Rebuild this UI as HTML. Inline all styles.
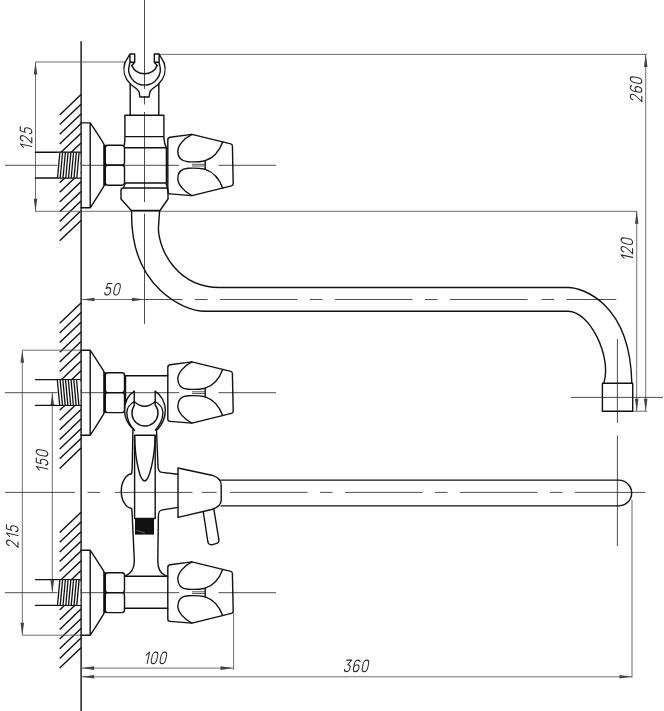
<!DOCTYPE html>
<html><head><meta charset="utf-8"><title>drawing</title>
<style>html,body{margin:0;padding:0;background:#fff}svg{display:block}</style></head>
<body>
<svg width="664" height="711" viewBox="0 0 664 711">
<style>
.k{fill:none;stroke:#111;stroke-width:1.4;stroke-linejoin:round;stroke-linecap:round}
.t{fill:none;stroke:#3a3a3a;stroke-width:0.85}
.t2{fill:none;stroke:#111;stroke-width:1.3}
.h{fill:none;stroke:#111;stroke-width:1.4}
.d{fill:none;stroke:#555;stroke-width:0.85}
.c{fill:none;stroke:#2e2e2e;stroke-width:0.85}
.a{fill:#444;stroke:none}
.g path{fill:none;stroke:#2a2a2a;stroke-width:0.95;stroke-linecap:round;stroke-linejoin:round}
</style>
<rect width="664" height="711" fill="#fff"/>
<path class="h" d="M81,94.6 L59.7,114.9 M81,104.3 L59.7,124.6 M81,114.0 L59.7,134.3 M81,123.6 L59.7,143.9 M81,133.3 L59.7,153.6 M81,143.0 L59.7,163.3 M81,152.7 L59.7,173.0 M81,162.4 L59.7,182.7 M81,172.0 L59.7,192.3 M81,181.7 L59.7,202.0 M81,191.4 L59.7,211.7 M81,201.1 L59.7,221.4 M81,210.8 L59.7,231.1 M81,220.4 L59.7,240.7 "/>
<path class="h" d="M81,302.9 L59.7,323.2 M81,312.6 L59.7,332.9 M81,322.3 L59.7,342.6 M81,331.9 L59.7,352.2 M81,341.6 L59.7,361.9 M81,351.3 L59.7,371.6 M81,361.0 L59.7,381.3 M81,370.7 L59.7,391.0 M81,380.3 L59.7,400.6 M81,390.0 L59.7,410.3 M81,399.7 L59.7,420.0 M81,409.4 L59.7,429.7 M81,419.1 L59.7,439.4 M81,428.7 L59.7,449.0 M81,438.4 L59.7,458.7 M81,448.1 L59.7,468.4 "/>
<path class="h" d="M81,512.3 L59.7,532.6 M81,522.0 L59.7,542.3 M81,531.7 L59.7,552.0 M81,541.3 L59.7,561.6 M81,551.0 L59.7,571.3 M81,560.7 L59.7,581.0 M81,570.4 L59.7,590.7 M81,580.1 L59.7,600.4 M81,589.7 L59.7,610.0 M81,599.4 L59.7,619.7 M81,609.1 L59.7,629.4 M81,618.8 L59.7,639.1 M81,628.5 L59.7,648.8 M81,638.1 L59.7,658.4 M81,647.8 L59.7,668.1 "/>
<path class="k" d="M81.1,41.8 L81.1,711"/>
<path class="d" d="M35,62 L125,62 M159.5,54.4 L647,54.4 M35,211.3 L637.5,211.3 M35.5,62 L35.5,211.3 M645.7,54.4 L645.7,411.2 M632.8,411.2 L647.3,411.2 M636.7,211.3 L636.7,411.2 M82,299.5 L144.5,299.5 M22.3,350.2 L82,350.2 M22.3,635.2 L82,635.2 M22.3,350.2 L22.3,635.2 M52.3,392.7 L52.3,592.7 M82,668.1 L233,668.1 M82,676.8 L632,676.8 M233.6,612 L233.6,670 M632,500 L632,678"/>
<path class="c" d="M144.5,0 L144.5,89 M144.5,96 L144.5,104.5 M144.5,112 L144.5,202 M144.5,213.6 L144.5,324 M5,165.3 L179.3,165.3 M218.4,165.3 L276,165.3 M144.5,299.5 L182.5,299.5 M195,299.5 L207.5,299.5 M220,299.5 L297.5,299.5 M310,299.5 L322.5,299.5 M335,299.5 L412.5,299.5 M425,299.5 L437.5,299.5 M450,299.5 L527.5,299.5 M541.5,299.5 L554,299.5 M566.5,299.5 L616.3,299.5 M617.4,339 L617.4,423 M617.4,435.5 L617.4,546 M571,397.4 L663,397.4 M5,392.7 L179.3,392.7 M218.4,392.7 L276,392.7 M5,592.7 L179.3,592.7 M218.4,592.7 L276,592.7 M5,492.4 L75,492.4 M87.5,492.4 L100,492.4 M115,492.4 L192.5,492.4 M201.8,492.4 L216.6,492.4 M230,492.4 L307.5,492.4 M320,492.4 L332.5,492.4 M345,492.4 L422.5,492.4 M435,492.4 L447.5,492.4 M460,492.4 L537.5,492.4 M550,492.4 L562.5,492.4 M575,492.4 L645.5,492.4"/>
<polygon class="a" points="35.5,62.0 33.7,74.5 37.3,74.5"/>
<polygon class="a" points="35.5,211.3 33.7,198.8 37.3,198.8"/>
<polygon class="a" points="645.7,54.4 643.9,66.9 647.5,66.9"/>
<polygon class="a" points="645.7,411.2 643.9,398.7 647.5,398.7"/>
<polygon class="a" points="636.7,211.3 634.9,223.8 638.5,223.8"/>
<polygon class="a" points="636.7,411.2 634.9,398.7 638.5,398.7"/>
<polygon class="a" points="82.0,299.5 94.5,297.7 94.5,301.3"/>
<polygon class="a" points="144.5,299.5 132.0,297.7 132.0,301.3"/>
<polygon class="a" points="22.3,350.2 20.5,362.7 24.1,362.7"/>
<polygon class="a" points="22.3,635.2 20.5,622.7 24.1,622.7"/>
<polygon class="a" points="52.3,392.7 50.5,405.2 54.1,405.2"/>
<polygon class="a" points="52.3,592.7 50.5,580.2 54.1,580.2"/>
<polygon class="a" points="81.6,668.1 94.1,666.3 94.1,669.9"/>
<polygon class="a" points="233.0,668.1 220.5,666.3 220.5,669.9"/>
<polygon class="a" points="81.6,676.8 94.1,675.0 94.1,678.6"/>
<polygon class="a" points="632.0,676.8 619.5,675.0 619.5,678.6"/>
<g class="g" transform="translate(31.8,149.6) rotate(-90)"><path transform="translate(0.00,0) scale(1.08,1.15) skewX(-13) translate(0,-10)" d="M0.4,2.7 L2.9,0 L2.9,10"/><path transform="translate(6.60,0) scale(1.08,1.15) skewX(-13) translate(0,-10)" d="M0.1,2.4 C0.3,0.9 1.2,0 2.5,0 C4,0 5,1 5,2.6 C5,4 4.2,5 3.2,6.2 L0,10 L5,10"/><path transform="translate(15.40,0) scale(1.08,1.15) skewX(-13) translate(0,-10)" d="M4.8,0 L0.9,0 L0.4,4.4 C1.1,3.8 1.9,3.6 2.6,3.6 C4.1,3.6 5,4.9 5,6.8 C5,8.7 4,10 2.5,10 C1.1,10 0.2,9.2 0,7.9"/></g>
<g class="g" transform="translate(641.8,101.7) rotate(-90)"><path transform="translate(0.00,0) scale(1.08,1.15) skewX(-13) translate(0,-10)" d="M0.1,2.4 C0.3,0.9 1.2,0 2.5,0 C4,0 5,1 5,2.6 C5,4 4.2,5 3.2,6.2 L0,10 L5,10"/><path transform="translate(8.80,0) scale(1.08,1.15) skewX(-13) translate(0,-10)" d="M4.7,1.2 C4.3,0.4 3.5,0 2.6,0 C1,0 0,1.4 0,3.4 L0,6.8 C0,8.7 1,10 2.5,10 C4,10 5,8.8 5,7 C5,5.2 4,4.1 2.5,4.1 C1.3,4.1 0.4,4.9 0,6.2"/><path transform="translate(17.60,0) scale(1.08,1.15) skewX(-13) translate(0,-10)" d="M2.5,0 C4.1,0 5,1.6 5,3.4 L5,6.6 C5,8.4 4.1,10 2.5,10 C0.9,10 0,8.4 0,6.6 L0,3.4 C0,1.6 0.9,0 2.5,0 Z"/></g>
<g class="g" transform="translate(632.6,260.5) rotate(-90)"><path transform="translate(0.00,0) scale(1.08,1.15) skewX(-13) translate(0,-10)" d="M0.4,2.7 L2.9,0 L2.9,10"/><path transform="translate(6.60,0) scale(1.08,1.15) skewX(-13) translate(0,-10)" d="M0.1,2.4 C0.3,0.9 1.2,0 2.5,0 C4,0 5,1 5,2.6 C5,4 4.2,5 3.2,6.2 L0,10 L5,10"/><path transform="translate(15.40,0) scale(1.08,1.15) skewX(-13) translate(0,-10)" d="M2.5,0 C4.1,0 5,1.6 5,3.4 L5,6.6 C5,8.4 4.1,10 2.5,10 C0.9,10 0,8.4 0,6.6 L0,3.4 C0,1.6 0.9,0 2.5,0 Z"/></g>
<g class="g" transform="translate(47.8,472.2) rotate(-90)"><path transform="translate(0.00,0) scale(1.08,1.15) skewX(-13) translate(0,-10)" d="M0.4,2.7 L2.9,0 L2.9,10"/><path transform="translate(6.60,0) scale(1.08,1.15) skewX(-13) translate(0,-10)" d="M4.8,0 L0.9,0 L0.4,4.4 C1.1,3.8 1.9,3.6 2.6,3.6 C4.1,3.6 5,4.9 5,6.8 C5,8.7 4,10 2.5,10 C1.1,10 0.2,9.2 0,7.9"/><path transform="translate(15.40,0) scale(1.08,1.15) skewX(-13) translate(0,-10)" d="M2.5,0 C4.1,0 5,1.6 5,3.4 L5,6.6 C5,8.4 4.1,10 2.5,10 C0.9,10 0,8.4 0,6.6 L0,3.4 C0,1.6 0.9,0 2.5,0 Z"/></g>
<g class="g" transform="translate(18,547.5) rotate(-90)"><path transform="translate(0.00,0) scale(1.08,1.15) skewX(-13) translate(0,-10)" d="M0.1,2.4 C0.3,0.9 1.2,0 2.5,0 C4,0 5,1 5,2.6 C5,4 4.2,5 3.2,6.2 L0,10 L5,10"/><path transform="translate(8.80,0) scale(1.08,1.15) skewX(-13) translate(0,-10)" d="M0.4,2.7 L2.9,0 L2.9,10"/><path transform="translate(15.40,0) scale(1.08,1.15) skewX(-13) translate(0,-10)" d="M4.8,0 L0.9,0 L0.4,4.4 C1.1,3.8 1.9,3.6 2.6,3.6 C4.1,3.6 5,4.9 5,6.8 C5,8.7 4,10 2.5,10 C1.1,10 0.2,9.2 0,7.9"/></g>
<g class="g" transform="translate(104.3,295)"><path transform="translate(0.00,0) scale(1.08,1.15) skewX(-13) translate(0,-10)" d="M4.8,0 L0.9,0 L0.4,4.4 C1.1,3.8 1.9,3.6 2.6,3.6 C4.1,3.6 5,4.9 5,6.8 C5,8.7 4,10 2.5,10 C1.1,10 0.2,9.2 0,7.9"/><path transform="translate(8.80,0) scale(1.08,1.15) skewX(-13) translate(0,-10)" d="M2.5,0 C4.1,0 5,1.6 5,3.4 L5,6.6 C5,8.4 4.1,10 2.5,10 C0.9,10 0,8.4 0,6.6 L0,3.4 C0,1.6 0.9,0 2.5,0 Z"/></g>
<g class="g" transform="translate(144,663.6)"><path transform="translate(0.00,0) scale(1.08,1.15) skewX(-13) translate(0,-10)" d="M0.4,2.7 L2.9,0 L2.9,10"/><path transform="translate(6.60,0) scale(1.08,1.15) skewX(-13) translate(0,-10)" d="M2.5,0 C4.1,0 5,1.6 5,3.4 L5,6.6 C5,8.4 4.1,10 2.5,10 C0.9,10 0,8.4 0,6.6 L0,3.4 C0,1.6 0.9,0 2.5,0 Z"/><path transform="translate(15.40,0) scale(1.08,1.15) skewX(-13) translate(0,-10)" d="M2.5,0 C4.1,0 5,1.6 5,3.4 L5,6.6 C5,8.4 4.1,10 2.5,10 C0.9,10 0,8.4 0,6.6 L0,3.4 C0,1.6 0.9,0 2.5,0 Z"/></g>
<g class="g" transform="translate(343.9,671.6)"><path transform="translate(0.00,0) scale(1.08,1.15) skewX(-13) translate(0,-10)" d="M0.3,0 L4.8,0 L2.2,4 C3.9,3.9 5,5.1 5,6.9 C5,8.8 4,10 2.5,10 C1.1,10 0.2,9.2 0,7.9"/><path transform="translate(8.80,0) scale(1.08,1.15) skewX(-13) translate(0,-10)" d="M4.7,1.2 C4.3,0.4 3.5,0 2.6,0 C1,0 0,1.4 0,3.4 L0,6.8 C0,8.7 1,10 2.5,10 C4,10 5,8.8 5,7 C5,5.2 4,4.1 2.5,4.1 C1.3,4.1 0.4,4.9 0,6.2"/><path transform="translate(17.60,0) scale(1.08,1.15) skewX(-13) translate(0,-10)" d="M2.5,0 C4.1,0 5,1.6 5,3.4 L5,6.6 C5,8.4 4.1,10 2.5,10 C0.9,10 0,8.4 0,6.6 L0,3.4 C0,1.6 0.9,0 2.5,0 Z"/></g>
<path class="k" d="M35.5,152.2 L80.5,152.2 M35.5,178.0 L80.5,178.0"/>
<rect x="57.5" y="152.79999999999998" width="22.8" height="24.6" fill="#fff" stroke="none"/>
<path class="t2" d="M59.9,152.2 L57.5,178.0 M62.6,152.2 L60.2,178.0 M65.4,152.2 L63.0,178.0 M68.1,152.2 L65.8,178.0 M70.9,152.2 L68.5,178.0 M73.6,152.2 L71.2,178.0 M76.4,152.2 L74.0,178.0 M79.1,152.2 L76.8,178.0 "/>
<path class="k" d="M81,122.89999999999999 L90.2,122.89999999999999 Q96,131.2 103.9,144.0 L103.9,186.2 Q96,199.2 90.2,207.79999999999998 L81,207.79999999999998 M90.2,122.89999999999999 L90.2,207.79999999999998 M105.3,145.2 L105.3,185.2"/>
<rect class="k" x="105.3" y="145.29999999999998" width="19.2" height="19.9" rx="2.6"/>
<rect class="k" x="105.3" y="165.2" width="19.2" height="20" rx="2.6"/>
<g>
<path class="k" d="M129.9,54 L134.7,54 L134.7,62.2 L129.9,62.2 Z M129.9,54 L124.8,63 M129.9,62.2 L129.5,64.4 M134.7,62.2 L131.8,65.6"/>
<path class="k" d="M159.1,54 L154.3,54 L154.3,62.2 L159.1,62.2 Z M159.1,54 L164.2,63 M159.1,62.2 L159.5,64.4 M154.3,62.2 L157.2,65.6"/>
<path class="k" d="M124.8,63 A20.4,20.4 0 0 0 130.1,83.6 M164.2,63 A20.4,20.4 0 0 1 158.9,83.6"/>
<path class="k" d="M129.5,64.4 A15.8,15.8 0 1 0 159.5,64.4"/>
<path class="k" d="M131.8,65.6 A14,14 0 0 0 157.2,65.6"/>
<path class="k" d="M130.2,84 L136.5,88.8 Q139,90.8 139.4,93.5 L139.9,97 L149.1,97 L149.6,93.5 Q150,90.8 152.5,88.8 L158.8,84"/>
<path class="k" d="M130.2,84.2 L130.2,115.2 M158.8,84.2 L158.8,115.2"/>
</g>
<path class="k" d="M124.9,115.2 L163.9,115.2 M124.9,115.2 L124.9,136.6 Q124.9,141 124.4,145 M163.9,115.2 L163.9,136.6 Q164.2,144 166.4,147.6 L166.4,183
M124.9,136.6 L163.9,136.6 M124.7,147.8 L166.4,147.8 M124.7,183 L166.4,183 M125.3,183 L123.5,188 M166,183 L167.5,188"/>
<path class="k" d="M121,190.5 Q121,188 123.5,188 L165.5,188 Q168,188 168,190.5 L168,199 L160,210.5 L131.3,210.5 L121,199 Z"/>
<g transform="translate(0,0)">
<path class="k" fill="#fff" d="M167.8,140 Q167.8,137.7 170,137.3 L191.9,134.4 L230.8,143.9 Q232.4,144.3 232.4,146 L233.2,183.6 Q233.2,185.4 231.4,185.9 L191.9,195.6 L170,193.9 Q167.8,193.7 167.8,191.5 Z"/>
<path class="k" d="M191.9,134.4 C183,139 177.8,146 177.8,151.5 C177.8,157 181,161.2 188,161.7 C195,162.2 200,161.8 205.2,160.7 C212,158.5 219,152 222.7,142"/>
<path class="k" d="M191.9,195.6 C183,191 177.8,184 177.8,178.6 C177.8,173 181,168.8 188,168.3 C195,167.8 200,168.2 205.2,169.3 C212,171.5 219,178 222.7,188"/>
<path class="k" d="M205.2,160.7 L205.2,169.3"/>
<path class="t" d="M192,164.3 L205,164.3 M192,166 L205,166"/>
</g>
<path class="k" d="M131.6,210.6 L131.6,215 C131.6,287 183,311.2 205,311.2 L568.2,311.2 C589.2,311.2 612,355.8 603.9,383"/>
<path class="k" d="M159.6,210.6 L158.4,228.2 C158.9,251.2 178,287.5 220,287.5 L568.2,287.5 C581.2,287.5 630.2,301.8 631.8,383"/>
<rect class="k" x="602.4" y="383.2" width="30.3" height="28"/>
<path class="k" d="M35.5,379.6 L80.5,379.6 M35.5,405.40000000000003 L80.5,405.40000000000003"/>
<rect x="57.5" y="380.20000000000005" width="22.8" height="24.6" fill="#fff" stroke="none"/>
<path class="t2" d="M57.3,379.6 L59.7,405.40000000000003 M60.1,379.6 L62.5,405.40000000000003 M62.8,379.6 L65.2,405.40000000000003 M65.5,379.6 L67.9,405.40000000000003 M68.3,379.6 L70.7,405.40000000000003 M71.0,379.6 L73.4,405.40000000000003 M73.8,379.6 L76.2,405.40000000000003 M76.5,379.6 L78.9,405.40000000000003 "/>
<path class="k" d="M81,350.3 L90.2,350.3 Q96,358.6 103.9,371.40000000000003 L103.9,413.6 Q96,426.6 90.2,435.20000000000005 L81,435.20000000000005 M90.2,350.3 L90.2,435.20000000000005 M105.3,372.6 L105.3,412.6"/>
<rect class="k" x="105.3" y="372.70000000000005" width="19.2" height="19.9" rx="2.6"/>
<rect class="k" x="105.3" y="392.6" width="19.2" height="20" rx="2.6"/>
<path class="k" d="M124.5,375.8 L167.8,375.8 M125.5,375.8 L125.5,401"/>
<g transform="translate(0,227.5)">
<path class="k" fill="#fff" d="M167.8,140 Q167.8,137.7 170,137.3 L191.9,134.4 L230.8,143.9 Q232.4,144.3 232.4,146 L233.2,183.6 Q233.2,185.4 231.4,185.9 L191.9,195.6 L170,193.9 Q167.8,193.7 167.8,191.5 Z"/>
<path class="k" d="M191.9,134.4 C183,139 177.8,146 177.8,151.5 C177.8,157 181,161.2 188,161.7 C195,162.2 200,161.8 205.2,160.7 C212,158.5 219,152 222.7,142"/>
<path class="k" d="M191.9,195.6 C183,191 177.8,184 177.8,178.6 C177.8,173 181,168.8 188,168.3 C195,167.8 200,168.2 205.2,169.3 C212,171.5 219,178 222.7,188"/>
<path class="k" d="M205.2,160.7 L205.2,169.3"/>
<path class="t" d="M192,164.3 L205,164.3 M192,166 L205,166"/>
</g>
<g>
<path class="k" d="M134.2,391.3 L134.2,405.6 M155.2,391.3 L155.2,405.6"/>
<path class="k" d="M134.1,391.3 C128,395 124.6,402.5 124.6,410.5 C124.6,418 128,424.5 133.6,429.5 M155.3,391.3 C161.4,395 165.3,402.5 165.3,410.5 C165.3,418 162,424.5 157.6,429.5"/>
<path class="k" d="M134.2,401.5 C129.2,404.5 126.8,408 126.8,412.5 C126.8,419 130,425.5 134.6,430.5 M155.2,401.5 C160.4,404.5 162.9,408 162.9,412.5 C162.9,419 160,425 155.5,430"/>
<path class="k" d="M134.2,405.6 A13.05,13.05 0 1 0 155.7,405.6"/>
<path class="k" d="M134.2,401.5 Q144.6,411.2 155.2,401.5"/>
</g>
<path class="k" d="M132.9,430 L132.2,468 C132,471 131.8,473 131.6,473.8 A11.2,17.4 0 0 0 131.6,508.5 C132,510 132.1,512 132.2,515 L134.3,560 C134.6,568 131,573.5 125.5,575.9"/>
<path class="k" d="M156.5,430 L158,466 C158,470 159,472.3 162,472.4 L178,474.2 M178,507.4 L162.5,509.9 C159.2,510.4 158.4,512 158.4,516 L157.8,561 C157.8,569 161,574 166.1,575.9"/>
<path class="k" d="M134.6,435.3 L155.2,435.3 M134.6,435.3 L134.6,518.5 M155.2,435.3 L155.2,518.5 M134.6,518.5 L155.2,518.5"/>
<path class="k" d="M134.6,436 C135,460 140,481 144.6,481 C149,481 154.5,460 155.2,436"/>
<rect x="135" y="518.5" width="19" height="16.1" fill="#111"/>
<path d="M136.5,530.4 L144.6,532.9" stroke="#bbb" stroke-width="0.5" fill="none"/>
<path class="k" fill="#fff" d="M178,468 L211.7,475.2 C218,477 221.2,480 221.2,485 L221.2,500 C221.2,505 218,507.5 211.7,509.5 L178,517.4 Z"/>
<path class="k" d="M203.3,512 L207.8,541.5 Q208.6,545.5 212.5,544.6 L216,543.6 Q219.6,542.6 218.8,539 L213.9,509.6"/>
<path class="k" d="M221.2,480.1 L618.8,480.1 A12.9,12.9 0 0 1 618.8,505.9 L221.2,505.9"/>
<path class="k" d="M35.5,579.6 L80.5,579.6 M35.5,605.4 L80.5,605.4"/>
<rect x="57.5" y="580.2" width="22.8" height="24.6" fill="#fff" stroke="none"/>
<path class="t2" d="M59.9,579.6 L57.5,605.4 M62.6,579.6 L60.2,605.4 M65.4,579.6 L63.0,605.4 M68.1,579.6 L65.8,605.4 M70.9,579.6 L68.5,605.4 M73.6,579.6 L71.2,605.4 M76.4,579.6 L74.0,605.4 M79.1,579.6 L76.8,605.4 "/>
<path class="k" d="M81,550.3000000000001 L90.2,550.3000000000001 Q96,558.6 103.9,571.4 L103.9,613.6 Q96,626.6 90.2,635.2 L81,635.2 M90.2,550.3000000000001 L90.2,635.2 M105.3,572.6 L105.3,612.6"/>
<rect class="k" x="105.3" y="572.7" width="19.2" height="19.9" rx="2.6"/>
<rect class="k" x="105.3" y="592.6" width="19.2" height="20" rx="2.6"/>
<path class="k" d="M124.5,576.2 L167.8,576.2 M124.5,608.2 L167.8,608.2"/>
<g transform="translate(0,427.5)">
<path class="k" fill="#fff" d="M167.8,140 Q167.8,137.7 170,137.3 L191.9,134.4 L230.8,143.9 Q232.4,144.3 232.4,146 L233.2,183.6 Q233.2,185.4 231.4,185.9 L191.9,195.6 L170,193.9 Q167.8,193.7 167.8,191.5 Z"/>
<path class="k" d="M191.9,134.4 C183,139 177.8,146 177.8,151.5 C177.8,157 181,161.2 188,161.7 C195,162.2 200,161.8 205.2,160.7 C212,158.5 219,152 222.7,142"/>
<path class="k" d="M191.9,195.6 C183,191 177.8,184 177.8,178.6 C177.8,173 181,168.8 188,168.3 C195,167.8 200,168.2 205.2,169.3 C212,171.5 219,178 222.7,188"/>
<path class="k" d="M205.2,160.7 L205.2,169.3"/>
<path class="t" d="M192,164.3 L205,164.3 M192,166 L205,166"/>
</g>
</svg>
</body></html>
